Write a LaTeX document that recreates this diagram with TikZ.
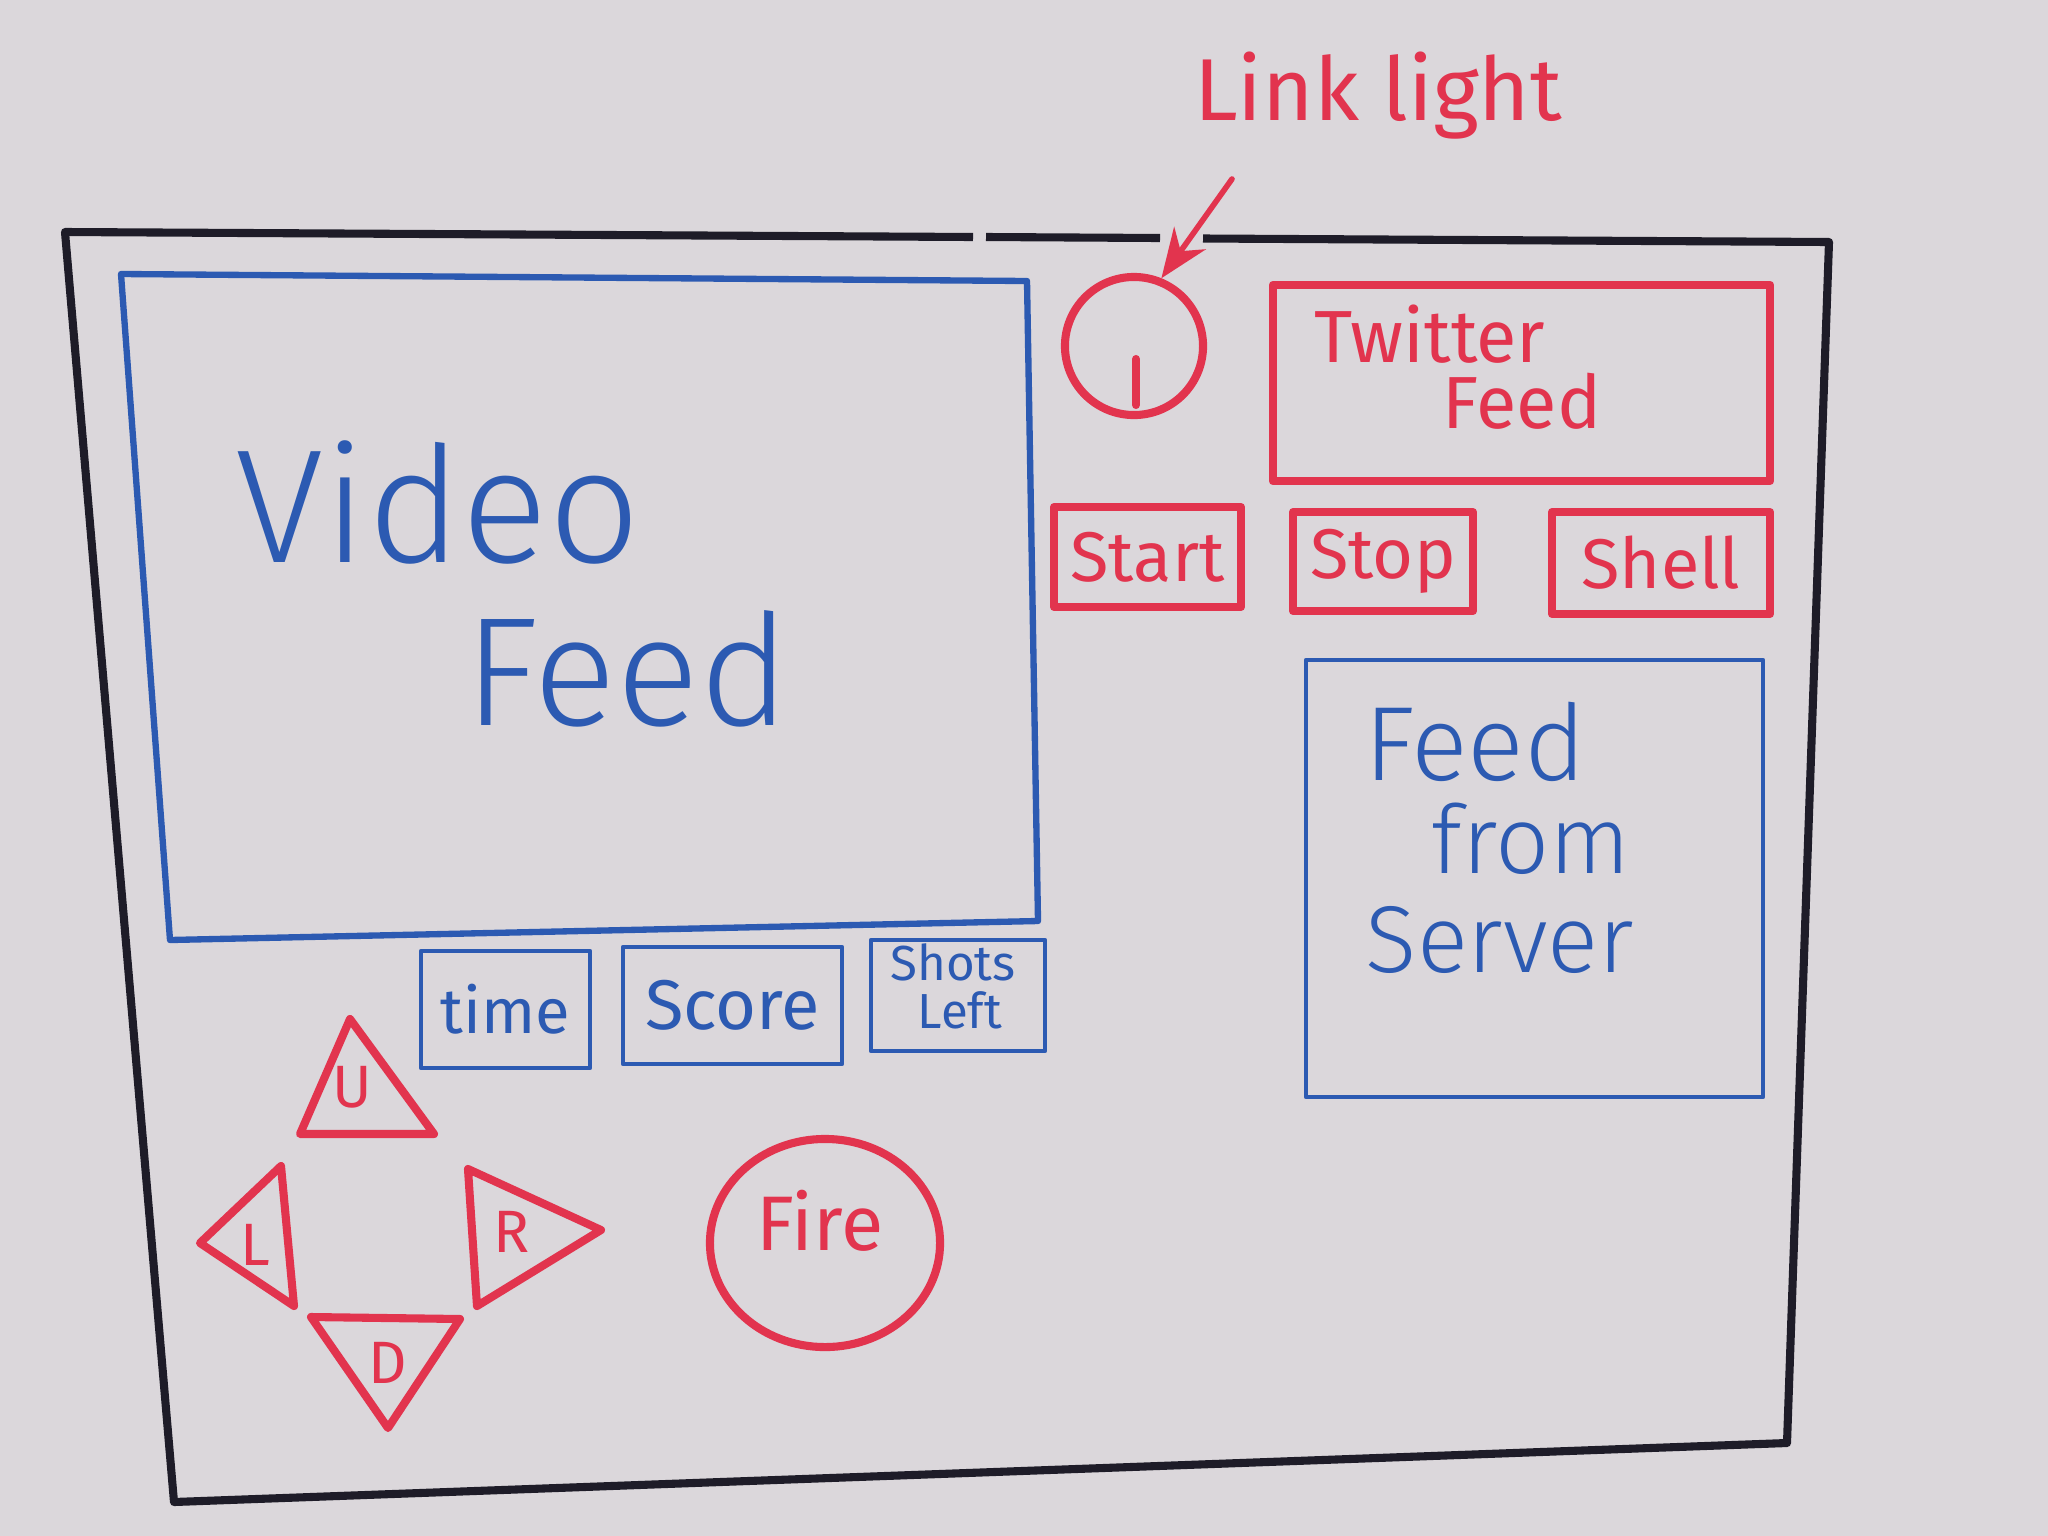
\documentclass[tikz,border=0pt]{standalone}
\usepackage{fontspec}
\setmainfont{Fira Sans}
\newfontfamily\thinpen{Fira Sans Light}
\usetikzlibrary{shapes.geometric,arrows.meta}
\definecolor{board}{RGB}{219,215,219}
\definecolor{mred}{RGB}{226,52,78}
\definecolor{mblue}{RGB}{44,90,178}
\definecolor{mblack}{RGB}{30,28,40}
\begin{document}
\begin{tikzpicture}[x=0.01cm,y=-0.01cm,
  redpen/.style={draw=mred,line width=2.3pt,line join=round,line cap=round},
  bluepen/.style={draw=mblue,line width=1.6pt,line join=round,line cap=round},
  thinblue/.style={draw=mblue,line width=1.2pt,line join=round},
  redtxt/.style={text=mred,inner sep=0pt,anchor=base},
  bluetxt/.style={text=mblue,inner sep=0pt,anchor=base},
  redbox/.style={redpen,rectangle,inner sep=0pt},
  bluebox/.style={thinblue,rectangle,inner sep=0pt}]
% whiteboard
\fill[board] (0,0) rectangle (2048,1536);
\useasboundingbox (0,0) rectangle (2048,1536);

% outer screen frame (top edge drawn in three strokes)
\draw[mblack,line width=2.3pt,line join=round]
  (1203,238.5) -- (1829,242) -- (1787,1443) -- (174,1502) -- (65,232) -- (973,237);
\draw[mblack,line width=2.3pt] (986,237) -- (1160,238);

% video area
\draw[bluepen,line width=1.8pt] (121,274) -- (1027,281) -- (1038,921) -- (170,940) -- cycle;
\node[bluetxt,font=\thinpen\fontsize{46}{50}\selectfont] (video) at (438,562) {Video};
\node[bluetxt,font=\thinpen\fontsize{44}{50}\selectfont] (videofeed) at (627,725) {Feed};

% link light
\node[redpen,circle,minimum size=1.38cm,inner sep=0pt] (light) at (1134,346) {};
\draw[redpen] (light.center) ++(2,13) -- ++(0,46);
\node[redtxt,font=\fontsize{25}{30}\selectfont] (lightlbl) at (1378,120) {Link light};
\coordinate (lighttail) at (1232,179);
\draw[redpen,line width=1.6pt,-{Stealth[length=14pt,width=11pt]}] (lighttail) -- (light.68);

% twitter feed
\node[redbox,minimum width=4.97cm,minimum height=1.96cm] (twitter) at (1521.5,383) {};
\node[redtxt,font=\fontsize{21}{24}\selectfont] (twl1) at (1430,362) {Twitter};
\node[redtxt,font=\fontsize{21}{24}\selectfont] (twl2) at (1522,428) {Feed};

% control buttons
\node[redbox,minimum width=1.87cm,minimum height=1.0cm,font=\fontsize{20}{24}\selectfont,text=mred] (start) at (1147.5,557) {Start};
\node[redbox,minimum width=1.80cm,minimum height=0.99cm,font=\fontsize{20}{24}\selectfont,text=mred] (stop) at (1383,561.5) {Stop};
\node[redbox,minimum width=2.18cm,minimum height=1.02cm,font=\fontsize{20}{24}\selectfont,text=mred] (shell) at (1661,563) {Shell};

% server feed
\node[bluebox,minimum width=4.57cm,minimum height=4.37cm] (server) at (1534.5,878.5) {};
\node[bluetxt,font=\thinpen\fontsize{30}{34}\selectfont] (sv1) at (1475,780) {Feed};
\node[bluetxt,font=\thinpen\fontsize{27}{34}\selectfont] (sv2) at (1531,873) {from};
\node[bluetxt,font=\thinpen\fontsize{27}{34}\selectfont] (sv3) at (1500,972) {Server};

% status boxes
\node[bluebox,minimum width=1.69cm,minimum height=1.17cm,font=\fontsize{18}{22}\selectfont,text=mblue] (time) at (505.5,1009.5) {time};
\node[bluebox,minimum width=2.19cm,minimum height=1.17cm,font=\fontsize{20}{24}\selectfont,text=mblue] (score) at (732.5,1005.5) {Score};
\node[bluebox,minimum width=1.74cm,minimum height=1.11cm] (shots) at (958,995.5) {};
\node[bluetxt,font=\fontsize{14}{16}\selectfont] (shots1) at (953,980) {Shots};
\node[bluetxt,font=\fontsize{14}{16}\selectfont] (shots2) at (960,1028) {Left};

% direction pad
\draw[redpen] (350,1019) -- (434,1134) -- (300,1134) -- cycle;
\node[redtxt,font=\fontsize{17}{20}\selectfont] (up) at (352,1107) {U};
\draw[redpen] (200,1243) -- (281,1166) -- (294,1306) -- cycle;
\node[redtxt,font=\fontsize{17}{20}\selectfont] (left) at (255,1265) {L};
\draw[redpen] (601,1230) -- (468,1169) -- (477,1306) -- cycle;
\node[redtxt,font=\fontsize{17}{20}\selectfont] (right) at (512,1252) {R};
\draw[redpen] (311,1317) -- (460,1319) -- (388,1428) -- cycle;
\node[redtxt,font=\fontsize{17}{20}\selectfont] (down) at (388,1383) {D};

% fire button
\node[redpen,ellipse,minimum width=2.3cm,minimum height=2.08cm,inner sep=0pt] (fire) at (825,1243) {};
\node[redtxt,font=\fontsize{22}{24}\selectfont] (firelbl) at (820,1250) {Fire};
\end{tikzpicture}
\end{document}
